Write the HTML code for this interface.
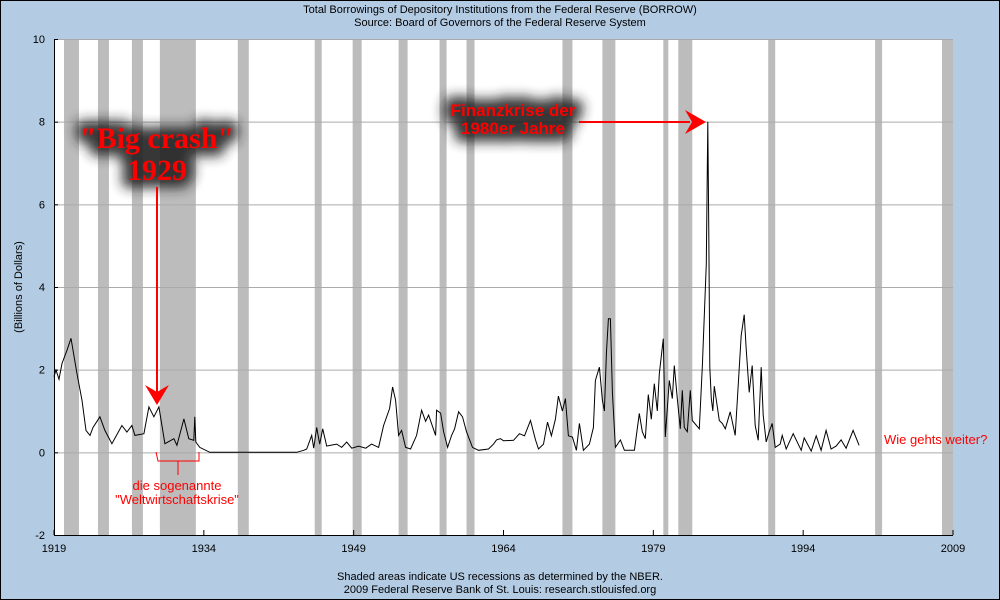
<!DOCTYPE html>
<html><head><meta charset="utf-8"><style>
body{margin:0;width:1000px;height:600px;overflow:hidden;background:#b3cce4;}
svg{display:block;font-family:"Liberation Sans",sans-serif;}
</style></head><body>
<svg id="chart" width="1000" height="600" viewBox="0 0 1000 600">
<defs><filter id="blur" x="-40%" y="-80%" width="180%" height="260%"><feGaussianBlur stdDeviation="6"/></filter></defs>
<rect x="0.5" y="0.5" width="999" height="599" fill="#b3cce4" stroke="#000"/>
<text x="500" y="13" font-size="11" text-anchor="middle">Total Borrowings of Depository Institutions from the Federal Reserve (BORROW)</text>
<text x="500" y="26" font-size="11" text-anchor="middle">Source: Board of Governors of the Federal Reserve System</text>
<rect x="54" y="39" width="899" height="496" fill="#fff"/>
<g id="rec"></g>
<g id="grid"></g>
<g id="axes"></g>
<path id="line" fill="none" stroke="#000" stroke-width="1"/>
<text transform="translate(22,287) rotate(-90)" font-size="11" text-anchor="middle">(Billions of Dollars)</text>
<text x="500" y="580" font-size="11" text-anchor="middle">Shaded areas indicate US recessions as determined by the NBER.</text>
<text x="500" y="593" font-size="11" text-anchor="middle">2009 Federal Reserve Bank of St. Louis: research.stlouisfed.org</text>
<g>
<g filter="url(#blur)" fill="#222" stroke="#222" stroke-width="16" stroke-linejoin="round" opacity="0.9" font-family="'Liberation Serif',serif" font-weight="bold" text-anchor="middle">
<text x="157" y="148" font-size="30">"Big crash"</text>
<text x="157" y="180" font-size="30">1929</text>
</g>
<text x="157" y="148" font-size="30" font-weight="bold" font-family="'Liberation Serif',serif" fill="#f00" text-anchor="middle">"Big crash"</text>
<text x="157" y="180" font-size="30" font-weight="bold" font-family="'Liberation Serif',serif" fill="#f00" text-anchor="middle">1929</text>
<line x1="157" y1="187" x2="157" y2="393" stroke="#f00" stroke-width="2"/>
<polygon points="145,385 157,405 169,385 157,392" fill="#f00"/>
</g>
<g>
<g filter="url(#blur)" fill="#222" stroke="#222" stroke-width="16" stroke-linejoin="round" opacity="0.9" font-size="17" font-weight="bold" text-anchor="middle">
<text x="513" y="116">Finanzkrise der</text>
<text x="513" y="134">1980er Jahre</text>
</g>
<text x="513" y="116" font-size="17" font-weight="bold" fill="#f00" text-anchor="middle">Finanzkrise der</text>
<text x="513" y="134" font-size="17" font-weight="bold" fill="#f00" text-anchor="middle">1980er Jahre</text>
<line x1="579" y1="122" x2="690" y2="122" stroke="#f00" stroke-width="2"/>
<polygon points="685,110 706,122 685,134 692,122" fill="#f00"/>
</g>
<g>
<polyline points="156,452 158,461 199,461 199,452" fill="none" stroke="#f00" stroke-width="1"/>
<line x1="178" y1="461" x2="178" y2="475" stroke="#f00"/>
<text x="177" y="490" font-size="13" fill="#f00" text-anchor="middle">die sogenannte</text>
<text x="177" y="504" font-size="13" fill="#f00" text-anchor="middle">"Weltwirtschaftskrise"</text>
</g>
<text x="884" y="444" font-size="13" fill="#f00">Wie gehts weiter?</text>
</svg>
<script>
const recStart=[1920.0,1923.4,1926.8,1929.6,1937.4,1945.1,1948.9,1953.5,1957.6,1960.3,1969.9,1973.9,1980.0,1981.5,1990.5,2001.2,2007.9];
const recEnd=[1921.5,1924.5,1927.9,1933.2,1938.5,1945.8,1949.8,1954.4,1958.3,1961.1,1970.9,1975.2,1980.5,1982.9,1991.2,2001.9,2009.0];
const yTicks=[-2,0,2,4,6,8,10];
const xTicks=[1919,1934,1949,1964,1979,1994,2009];
const years=[1919.0,1919.2,1919.5,1919.8,1920.3,1920.7,1920.9,1921.3,1921.8,1922.2,1922.6,1922.9,1923.6,1924.1,1924.8,1925.8,1926.3,1926.8,1927.1,1928.0,1928.5,1929.0,1929.5,1930.1,1931.0,1931.3,1932.0,1932.5,1933.0,1933.1,1933.2,1933.6,1934.6,1943.3,1944.0,1944.3,1944.8,1945.0,1945.3,1945.6,1945.9,1946.3,1946.7,1947.3,1947.8,1948.3,1948.8,1949.5,1950.2,1950.8,1951.5,1952.0,1952.6,1952.9,1953.2,1953.5,1953.8,1954.2,1954.7,1955.3,1955.8,1956.2,1956.5,1957.0,1957.2,1957.3,1957.7,1958.0,1958.4,1958.8,1959.1,1959.5,1959.9,1960.3,1960.9,1961.5,1962.5,1963.0,1963.3,1963.7,1964.0,1965.0,1965.6,1966.1,1966.7,1967.2,1967.5,1968.0,1968.4,1968.8,1969.2,1969.5,1969.9,1970.2,1970.5,1970.9,1971.3,1971.6,1972.0,1972.6,1973.0,1973.2,1973.6,1973.9,1974.1,1974.3,1974.5,1974.7,1974.9,1975.2,1975.7,1976.1,1977.1,1977.6,1977.9,1978.2,1978.5,1978.8,1979.1,1979.4,1979.6,1980.0,1980.2,1980.6,1980.9,1981.1,1981.4,1981.7,1981.9,1982.1,1982.4,1982.7,1982.9,1983.6,1983.9,1984.3,1984.45,1984.55,1984.65,1984.8,1984.95,1985.1,1985.6,1985.9,1986.2,1986.7,1987.2,1987.8,1988.1,1988.3,1988.6,1988.9,1989.2,1989.5,1989.8,1990.0,1990.3,1990.6,1990.9,1991.2,1991.7,1991.9,1992.3,1993.0,1993.8,1994.1,1994.8,1995.3,1995.8,1996.3,1996.8,1997.3,1997.8,1998.3,1999.0,1999.6,2000.1,2000.7,2001.0];
const values=[1.83,1.99,1.77,2.15,2.47,2.76,2.47,1.9,1.26,0.53,0.41,0.6,0.86,0.53,0.21,0.65,0.49,0.65,0.41,0.45,1.1,0.86,1.1,0.21,0.33,0.17,0.81,0.33,0.29,0.86,0.25,0.12,0.0,0.0,0.05,0.08,0.41,0.1,0.6,0.2,0.57,0.15,0.17,0.2,0.12,0.25,0.1,0.15,0.1,0.2,0.12,0.65,1.06,1.58,1.26,0.41,0.53,0.12,0.08,0.41,1.02,0.75,0.9,0.55,0.41,1.02,0.95,0.5,0.12,0.41,0.57,0.98,0.86,0.5,0.12,0.05,0.08,0.2,0.3,0.33,0.28,0.29,0.45,0.4,0.77,0.3,0.08,0.2,0.73,0.4,0.8,1.36,1.0,1.3,0.4,0.37,0.05,0.7,0.05,0.2,0.6,1.74,2.06,1.26,1.0,2.39,3.23,3.23,1.45,0.12,0.3,0.05,0.05,0.94,0.5,0.33,1.4,0.8,1.66,1.0,1.9,2.75,0.37,1.74,1.3,2.1,1.3,0.57,1.5,0.6,0.5,1.5,0.77,0.57,2.06,4.56,8.0,5.3,2.06,1.3,1.0,1.6,0.77,0.7,0.57,0.98,0.41,2.83,3.33,2.5,1.45,2.1,0.65,0.29,2.06,0.9,0.25,0.5,0.7,0.12,0.2,0.41,0.08,0.45,0.05,0.35,0.03,0.4,0.05,0.53,0.08,0.15,0.3,0.1,0.53,0.17];
const X0=54,X1=953,Y0=535,Y1=39;
const xs=y=>X0+(y-1919)/(2009-1919)*(X1-X0);
const ys=v=>Y0-(v+2)/12*(Y0-Y1);
const NS='http://www.w3.org/2000/svg';
const rec=document.getElementById('rec');
recStart.forEach((s,i)=>{const r=document.createElementNS(NS,'rect');
r.setAttribute('x',xs(s));r.setAttribute('y',Y1);
r.setAttribute('width',Math.min(xs(recEnd[i]),X1)-xs(s));r.setAttribute('height',Y0-Y1);
r.setAttribute('fill','#bcbcbc');


rec.appendChild(r);});
const grid=document.getElementById('grid'),axes=document.getElementById('axes');
yTicks.forEach(t=>{const y=ys(t);
if(t>-2){const l=document.createElementNS(NS,'line');l.setAttribute('x1',X0);l.setAttribute('x2',X1);l.setAttribute('y1',y+0.5);l.setAttribute('y2',y+0.5);l.setAttribute('stroke','#aaa');


grid.appendChild(l);}
const tk=document.createElementNS(NS,'line');tk.setAttribute('x1',X0);tk.setAttribute('x2',X0+4);tk.setAttribute('y1',y+0.5);tk.setAttribute('y2',y+0.5);tk.setAttribute('stroke','#000');


axes.appendChild(tk);
const tx=document.createElementNS(NS,'text');tx.setAttribute('x',X0-9);tx.setAttribute('y',y+4);tx.setAttribute('font-size','11');tx.setAttribute('text-anchor','end');tx.textContent=t;


axes.appendChild(tx);});
xTicks.forEach(t=>{const x=xs(t);
const tk=document.createElementNS(NS,'line');tk.setAttribute('x1',x);tk.setAttribute('x2',x);tk.setAttribute('y1',Y0-5);tk.setAttribute('y2',Y0);tk.setAttribute('stroke','#000');


axes.appendChild(tk);
const tx=document.createElementNS(NS,'text');tx.setAttribute('x',x);tx.setAttribute('y',Y0+17);tx.setAttribute('font-size','11');tx.setAttribute('text-anchor','middle');tx.textContent=t;


axes.appendChild(tx);});
const ax=document.createElementNS(NS,'path');ax.setAttribute('d',`M${X0+0.5},${Y1} V${Y0+0.5} H${X1}`);ax.setAttribute('stroke','#000');ax.setAttribute('fill','none');


axes.appendChild(ax);
document.getElementById('line').setAttribute('d',years.map((y,i)=>(i?'L':'M')+xs(y).toFixed(1)+','+ys(values[i]).toFixed(1)).join(' '));
</script>
</body></html>
